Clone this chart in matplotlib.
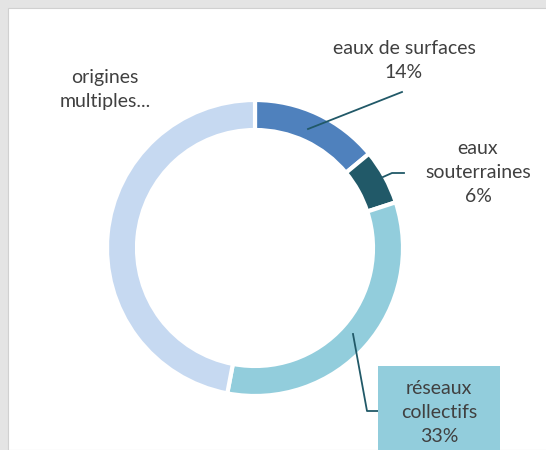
import numpy as np
import matplotlib
matplotlib.use("Agg")
from matplotlib import pyplot as plt
from matplotlib.patches import Rectangle

# Données
categories = ["eaux de surfaces", "eaux souterraines", "réseaux collectifs", "origines multiples..."]
valeurs = [14, 6, 33, 47]
couleurs = ["#4F81BD", "#215968", "#92CDDC", "#C6D9F1"]

plt.rcParams['font.family'] = ['Lato', 'DejaVu Sans']
texte = "#404040"
ligne = "#215968"

W, H = 546, 450
fig = plt.figure(figsize=(W/100, H/100), dpi=100)
fig.patch.set_facecolor("#e4e4e4")
ax = fig.add_axes([0, 0, 1, 1])
ax.set_xlim(0, W)
ax.set_ylim(0, H)
ax.set_aspect('equal')
ax.axis('off')

# Fond blanc du graphique
ax.add_patch(Rectangle((8, 0), W, H - 8, facecolor="white", edgecolor="#d0d0d0", lw=0.8, zorder=0))

cx, cy, r = 255, H - 248, 148
ax.pie(valeurs, colors=couleurs, startangle=90, counterclock=False,
       center=(cx, cy), radius=r, frame=True,
       wedgeprops=dict(width=30, edgecolor="white", linewidth=3))
ax.set_xlim(0, W)
ax.set_ylim(0, H)
ax.axis('off')

fs = 14
ls = 1.5
# eaux de surfaces
ax.plot([308, 402], [H - 129, H - 92], color=ligne, lw=1.3)
ax.text(404, H - 60, "eaux de surfaces\n14%", ha='center', va='center',
        fontsize=fs, color=texte, linespacing=ls)

# eaux souterraines
ax.plot([383, 392, 404], [H - 177, H - 173, H - 173], color=ligne, lw=1.3)
ax.text(478, H - 173, "eaux\nsouterraines\n6%", ha='center', va='center',
        fontsize=fs, color=texte, linespacing=ls)

# réseaux collectifs
ax.add_patch(Rectangle((378, -20), 122, H - 366 + 20, facecolor="#92CDDC", edgecolor="none", zorder=3))
ax.plot([353, 367, 378], [H - 334, H - 411, H - 411], color=ligne, lw=1.3)
ax.text(439, H - 413, "réseaux\ncollectifs\n33%", ha='center', va='center',
        fontsize=fs, color=texte, linespacing=ls, zorder=4)

# origines multiples
ax.text(105, H - 90, "origines\nmultiples...", ha='center', va='center',
        fontsize=fs, color=texte, linespacing=ls)

fig.savefig("out.png", dpi=100, facecolor=fig.get_facecolor())
